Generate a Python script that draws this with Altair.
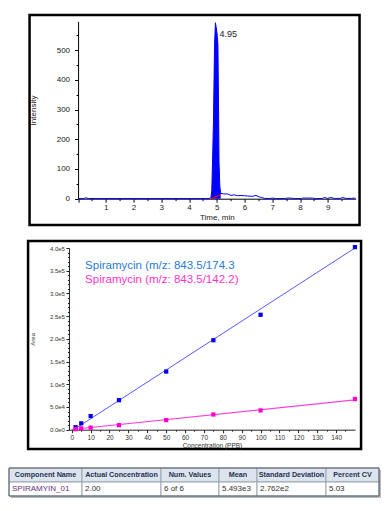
import altair as alt
import pandas as pd

# ---------------- data: chromatogram (top panel) ----------------
chrom_time = [0.00, 0.20, 0.29, 0.38, 1.00, 2.00, 3.00, 4.00, 4.60, 4.75,
              4.79, 4.82, 4.85, 4.88, 4.90, 4.92, 4.95, 4.98, 5.01, 5.04,
              5.06, 5.08, 5.11, 5.14, 5.25, 5.39, 5.51, 5.63, 5.75, 5.87,
              6.00, 6.11, 6.29, 6.41, 6.53, 6.62, 6.71, 6.90, 7.01, 7.12,
              7.45, 7.55, 7.67, 7.80, 8.05, 8.09, 8.45, 8.55, 8.80, 8.87,
              8.99, 9.11, 9.23, 9.45, 9.53, 9.65, 9.85, 9.95, 10.00]
chrom_intensity = [0.5, 0.5, 3, 0.5, 0.5, 0.5, 0.5, 0.5, 0.5, 1,
                   4, 30, 140, 260, 400, 520, 592, 575, 555, 520,
                   330, 120, 40, 18, 16, 16, 11, 13, 10, 11,
                   10, 9, 8, 11, 6, 4, 1, 0.5, 2, 0.5,
                   0.5, 2, 2, 0.5, 0.5, 2, 2, 0.5, 0.5, 4,
                   1, 4, 1, 1, 4, 1, 1, 2, 1]
peak_start, peak_end = 4.79, 5.14
baseline_time = [4.79, 5.14]
baseline_intensity = [0, 13.5]
peak_label_time = [4.95]
peak_label_intensity = [592]
peak_label_text = ["4.95"]

# ---------------- data: calibration curve (middle panel) ----------------
conc = [2, 5, 10, 25, 50, 75, 100, 150]
area_174 = [5.5e3, 1.4e4, 3.0e4, 6.5e4, 1.28e5, 1.97e5, 2.53e5, 4.02e5]
area_142 = [1.2e3, 3.0e3, 4.5e3, 1.0e4, 2.1e4, 3.35e4, 4.25e4, 6.75e4]
fit_174_conc = [1, 150]
fit_174_area = [0, 4.0e5]
fit_142_conc = [0, 150]
fit_142_area = [500, 6.55e4]
series_labels = ["Spiramycin (m/z: 843.5/174.3", "Spiramycin (m/z: 843.5/142.2)"]

# ---------------- data: statistics table (bottom) ----------------
table_header = ["Component Name", "Actual Concentration", "Num. Values",
                "Mean", "Standard Deviation", "Percent CV"]
table_values = ["SPIRAMYIN_01", "2.00", "6 of 6", "5.493e3", "2.762e2", "5.03"]

# ---------------- styling / layout ----------------
SANS = "Liberation Sans, Arial, sans-serif"
FRAME = alt.ViewBackground(stroke="black", strokeWidth=2.5, fill="white")

# ====================== top panel: chromatogram ======================
W1, H1 = 330, 210
X1_RANGE = [48.5, 326.0]
Y1_RANGE = [183.7, 6.3]

chrom_df = pd.DataFrame({"t": chrom_time, "v": chrom_intensity})
base_df = pd.DataFrame({"t": baseline_time, "v": baseline_intensity})
lab_df = pd.DataFrame({"t": peak_label_time, "v": peak_label_intensity, "txt": peak_label_text})

x1 = alt.X("t:Q",
           scale=alt.Scale(domain=[0, 10], range=X1_RANGE, nice=False, zero=False),
           axis=alt.Axis(values=[i * 0.5 for i in range(0, 20)],
                         labelExpr="datum.value > 0 && datum.value % 1 === 0 ? format(datum.value, 'd') : ''",
                         offset=-(H1 - Y1_RANGE[0]),
                         tickSize={"condition": {"test": "datum.value % 1 !== 0", "value": 2}, "value": 3.5},
                         labelFontSize=8, labelPadding=1.5, labelColor="#222",
                         labelOverlap=False, labelFlush=False,
                         title="Time, min", titleFontSize=8, titlePadding=2,
                         titleColor="#222", domainColor="black", tickColor="black"))
y1 = alt.Y("v:Q",
           scale=alt.Scale(domain=[0, 597], range=Y1_RANGE, nice=False),
           axis=alt.Axis(values=list(range(0, 600, 50)),
                         labelExpr="datum.value % 100 === 0 ? format(datum.value, 'd') : ''",
                         offset=-X1_RANGE[0],
                         tickSize={"condition": {"test": "datum.value % 100 !== 0", "value": 2}, "value": 3.5},
                         labelFontSize=8, labelPadding=5, labelColor="#222",
                         labelOverlap=False, labelFlush=False,
                         title="Intensity", titleFontSize=8, titlePadding=19,
                         titleColor="#222", domainColor="black", tickColor="black"))

peak_fill = alt.Chart(chrom_df).transform_filter(
    f"datum.t >= {peak_start} && datum.t <= {peak_end}"
).mark_area(color="#0000ff", opacity=1).encode(x=x1, y=y1)
trace = alt.Chart(chrom_df).mark_line(color="#0000ff", strokeWidth=1).encode(x=x1, y=y1)
baseline = alt.Chart(base_df).mark_line(color="#ff0000", strokeWidth=1.2).encode(x=x1, y=y1)
peak_lab = alt.Chart(lab_df).mark_text(align="left", baseline="middle", dx=4, dy=11,
                                       fontSize=9, font=SANS, color="#222").encode(
    x=x1, y=y1, text="txt:N")

top = alt.layer(peak_fill, trace, baseline, peak_lab).properties(
    width=W1, height=H1, view=FRAME)

# ====================== middle panel: calibration ======================
W2, H2 = 333, 208
X2_RANGE = [40.9, 326.9]
Y2_RANGE = [188.7, 7.0]

x2 = alt.X("c:Q",
           scale=alt.Scale(domain=[-1.5, 150], range=X2_RANGE, nice=False, zero=False),
           axis=alt.Axis(values=list(range(0, 150, 5)),
                         labelExpr="datum.value % 10 === 0 ? format(datum.value, 'd') : ''",
                         offset=-(H2 - Y2_RANGE[0]),
                         tickSize={"condition": {"test": "datum.value % 10 !== 0", "value": 1.5}, "value": 3},
                         labelFontSize=6.5, labelPadding=1.5, labelColor="#333",
                         labelOverlap=False, labelFlush=False,
                         title="Concentration (PPB)", titleFontSize=6.5, titlePadding=1.5,
                         titleColor="#333", domainColor="#222", tickColor="#222"))
y2 = alt.Y("a:Q",
           scale=alt.Scale(domain=[0, 4.0e5], range=Y2_RANGE, nice=False),
           axis=alt.Axis(values=list(range(0, 400001, 10000)),
                         labelExpr="datum.value % 50000 === 0 ? replace(format(datum.value, '.1e'), 'e+', 'e') : ''",
                         offset=-X2_RANGE[0],
                         tickSize={"condition": {"test": "datum.value % 50000 !== 0", "value": 1.5}, "value": 3},
                         labelFontSize=6, labelPadding=1.5, labelColor="#333",
                         labelOverlap=False, labelFlush=False,
                         title="Area", titleFontSize=6, titlePadding=14,
                         titleColor="#333", domainColor="#222", tickColor="#222"))

pts174 = pd.DataFrame({"c": conc, "a": area_174})
pts142 = pd.DataFrame({"c": conc, "a": area_142})
fit174 = pd.DataFrame({"c": fit_174_conc, "a": fit_174_area})
fit142 = pd.DataFrame({"c": fit_142_conc, "a": fit_142_area})
leg_df = pd.DataFrame({"txt": series_labels})

l174 = alt.Chart(fit174).mark_line(color="#5a5aff", strokeWidth=1).encode(x=x2, y=y2)
l142 = alt.Chart(fit142).mark_line(color="#ff3ddd", strokeWidth=1.2).encode(x=x2, y=y2)
p174 = alt.Chart(pts174).mark_square(color="#0000ee", size=18, opacity=1).encode(x=x2, y=y2)
p142 = alt.Chart(pts142).mark_square(color="#ff00cc", size=18, opacity=1).encode(x=x2, y=y2)
t174 = alt.Chart(leg_df).transform_filter(alt.datum.txt == series_labels[0]).mark_text(
    align="left", baseline="alphabetic", fontSize=11.5, font=SANS, color="#2a7ad4"
).encode(x=alt.value(57), y=alt.value(28), text="txt:N")
t142 = alt.Chart(leg_df).transform_filter(alt.datum.txt == series_labels[1]).mark_text(
    align="left", baseline="alphabetic", fontSize=11.5, font=SANS, color="#ff33cc"
).encode(x=alt.value(57), y=alt.value(42), text="txt:N")

middle = alt.layer(l174, l142, p174, p142, t174, t142).properties(
    width=W2, height=H2, view=FRAME)

# ====================== bottom: table ======================
col_widths = [73, 79, 58, 38, 69, 53]
ROW_H = 14
total_w = sum(col_widths)
TW, TH = total_w + 2, 2 * ROW_H + 2

rows = []
x0 = 0
for i, (h, v, w) in enumerate(zip(table_header, table_values, col_widths)):
    rows.append({"x0": x0, "x1": x0 + w, "y0": 0, "y1": ROW_H, "fill": "#dde4ee",
                 "txt": h, "tx": x0 + w / 2, "ty": ROW_H / 2, "row": "head",
                 "tcolor": "#1c3354"})
    rows.append({"x0": x0, "x1": x0 + w, "y0": ROW_H, "y1": 2 * ROW_H, "fill": "#ffffff",
                 "txt": v, "tx": x0 + 3, "ty": ROW_H * 1.5, "row": "data",
                 "tcolor": "#6a2f78" if i == 0 else "#333333"})
    x0 += w
cells = pd.DataFrame(rows)
shadow = pd.DataFrame({"x0": [2], "x1": [total_w + 2], "y0": [2], "y1": [2 * ROW_H + 2]})
outer = pd.DataFrame({"x0": [0], "x1": [total_w], "y0": [0], "y1": [2 * ROW_H]})

tx = lambda f: alt.X(f"{f}:Q", scale=alt.Scale(domain=[0, TW], range=[0, TW], nice=False, zero=False), axis=None)
ty = lambda f: alt.Y(f"{f}:Q", scale=alt.Scale(domain=[0, TH], range=[0, TH], nice=False, zero=False), axis=None)

sh = alt.Chart(shadow).mark_rect(fill="#b8b8b8").encode(
    x=tx("x0"), x2="x1:Q", y=ty("y0"), y2="y1:Q")
cellr = alt.Chart(cells).mark_rect(stroke="#9aa5b3", strokeWidth=1).encode(
    x=tx("x0"), x2="x1:Q", y=ty("y0"), y2="y1:Q",
    fill=alt.Fill("fill:N", scale=None))
outr = alt.Chart(outer).mark_rect(fill=None, stroke="#55606c", strokeWidth=1).encode(
    x=tx("x0"), x2="x1:Q", y=ty("y0"), y2="y1:Q")
htxt = alt.Chart(cells).transform_filter(alt.datum.row == "head").mark_text(
    align="center", baseline="middle", fontSize=7.2, font=SANS, fontWeight="bold"
).encode(x=tx("tx"), y=ty("ty"), text="txt:N", color=alt.Color("tcolor:N", scale=None))
dtxt = alt.Chart(cells).transform_filter(alt.datum.row == "data").mark_text(
    align="left", baseline="middle", fontSize=8, font=SANS
).encode(x=tx("tx"), y=ty("ty"), text="txt:N", color=alt.Color("tcolor:N", scale=None))

table = alt.layer(sh, cellr, outr, htxt, dtxt).properties(width=TW, height=TH)

# ====================== assemble ======================
charts = alt.vconcat(top, middle, spacing=12, center=True)
chart = alt.vconcat(charts, table, spacing=16, center=True).properties(
    padding={"left": 0, "top": 5, "right": 0, "bottom": 0}
).configure_view(stroke=None).configure_axis(
    grid=False, labelFont=SANS, titleFont=SANS, titleFontWeight="normal"
)

chart.save("out.html", embed_options={"renderer": "svg", "actions": False})
